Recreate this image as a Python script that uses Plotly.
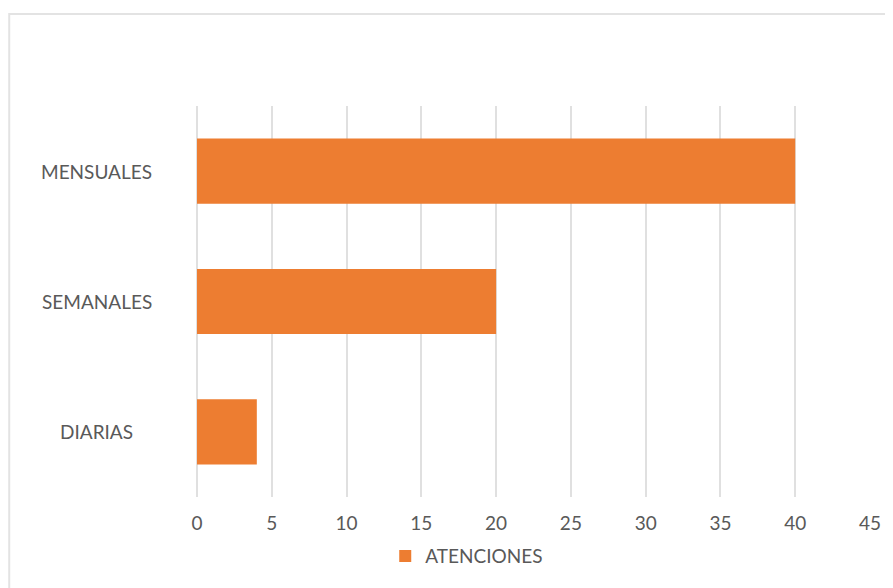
import plotly.graph_objects as go

categories = ["DIARIAS", "SEMANALES", "MENSUALES"]
values = [4, 20, 40]
series_name = "ATENCIONES"
x_ticks = [0, 5, 10, 15, 20, 25, 30, 35, 40, 45]

font_fam = "Lato, 'Open Sans', sans-serif"
txt_color = "#595959"
grid_color = "#e0e0e0"
fsize = 19

fig = go.Figure()
fig.add_trace(go.Bar(
    x=values, y=categories, orientation="h", name=series_name,
    marker=dict(color="#ED7D31", line=dict(width=0)),
    width=0.5, showlegend=True,
))

for c in categories:
    fig.add_annotation(x=-0.149, xref="paper", y=c, yref="y", text=c,
                       showarrow=False, xanchor="center", yanchor="middle",
                       font=dict(family=font_fam, size=fsize, color=txt_color))

fig.update_layout(
    width=885, height=580,
    margin=dict(l=189, r=18.5, t=98, b=91),
    paper_bgcolor="white", plot_bgcolor="white",
    font=dict(family=font_fam, size=fsize, color=txt_color),
    xaxis=dict(range=[0, 45], tickvals=x_ticks, showgrid=True,
               gridcolor=grid_color, gridwidth=1.8, zeroline=True,
               zerolinecolor=grid_color, zerolinewidth=1.8,
               showline=False, ticks="", ticklabelstandoff=13,
               tickfont=dict(family=font_fam, size=fsize, color=txt_color)),
    yaxis=dict(categoryorder="array", categoryarray=categories,
               range=[-0.5, 2.5], showticklabels=False, showgrid=False,
               zeroline=False, showline=False, ticks=""),
    legend=dict(orientation="h", x=0.2797, xanchor="left", y=-0.151,
                yanchor="middle", font=dict(family=font_fam, size=fsize, color=txt_color),
                itemwidth=30, bgcolor="rgba(0,0,0,0)"),
    bargap=0.5,
    shapes=[dict(type="rect", xref="paper", yref="paper",
                 x0=-0.279, x1=1.2, y0=-0.4, y1=1.235,
                 line=dict(color="#e3e3e3", width=2), fillcolor="rgba(0,0,0,0)",
                 layer="below")],
)

fig.write_html("out.html")
